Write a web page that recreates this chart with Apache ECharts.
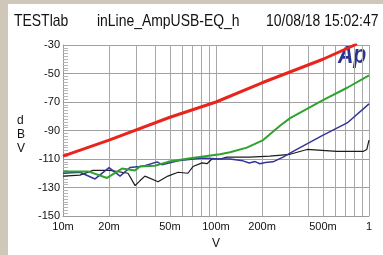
<!DOCTYPE html>
<html>
<head>
<meta charset="utf-8">
<script src="https://cdn.jsdelivr.net/npm/echarts@6/dist/echarts.min.js"></script>
<style>
html, body { margin: 0; padding: 0; background: #fff; }
#chart { width: 383px; height: 255px; }
</style>
</head>
<body>
<div id="chart"></div>
<script>
// 字体
var FONT = "'Liberation Sans', Arial, sans-serif";

// x 轴刻度 (V)
var xLabelValues = [0.01, 0.02, 0.05, 0.1, 0.2, 0.5, 1];
var xGridValues = [0.01, 0.02, 0.03, 0.04, 0.05, 0.06, 0.07, 0.08, 0.09,
                   0.1, 0.2, 0.3, 0.4, 0.5, 0.6, 0.7, 0.8, 0.9, 1];

// 红线
var redX = [0.01, 0.02, 0.05, 0.1, 0.2, 0.5, 0.835];
var redY = [-108, -96.7, -80.7, -70, -56.5, -40, -29.3];

// 绿线
var greenX = [0.01, 0.0146, 0.0194, 0.0243, 0.0296, 0.0318, 0.0399, 0.0485, 0.0697, 0.1062,
              0.1235, 0.159, 0.2033, 0.262, 0.305, 0.5, 0.72, 1];
var greenY = [-118.7, -118.7, -123.3, -116.7, -118, -115.3, -114.7, -112, -109.3, -106.7,
              -105.3, -102, -96.7, -86.7, -81.3, -68.7, -60, -51.3];

// 蓝线
var blueX = [0.01, 0.0129, 0.0162, 0.02, 0.0236, 0.0274, 0.0318, 0.0343, 0.0412, 0.0443,
             0.0565, 0.081, 0.1062, 0.1235, 0.15, 0.165, 0.18, 0.1937, 0.21, 0.2358,
             0.2745, 0.3191, 0.5013, 0.72, 1];
var blueY = [-120, -119.3, -124, -116, -122, -116, -115.3, -114.7, -112, -114,
             -111.3, -109.3, -110, -110, -111.3, -112.8, -111.8, -113.3, -112.5, -112,
             -108.7, -104.7, -93.3, -84.7, -71.3];

// 黑线
var blackX = [0.01, 0.0129, 0.0157, 0.0203, 0.0266, 0.0296, 0.0318, 0.0343, 0.0418, 0.0485,
              0.0565, 0.0655, 0.0707, 0.081, 0.0873, 0.0941, 0.1062, 0.118, 0.1665, 0.2245,
              0.305, 0.3935, 0.6164, 0.9144, 0.9676, 1];
var blackY = [-122, -121.3, -118, -118, -120, -128.7, -125.3, -122, -126, -122,
              -119.3, -120, -115.3, -112.7, -113.3, -110, -110, -108.7, -108.7, -108,
              -106.7, -103.3, -104.7, -104.7, -103.3, -96.7];

function pairs(xs, ys) {
    return xs.map(function (x, i) { return [x, ys[i]]; });
}

// 窄字标题
function narrowText(x, y, text, font, color, sx) {
    return {
        type: 'text', x: x, y: y, scaleX: sx,
        style: { text: text, font: font, fill: color, verticalAlign: 'top' }
    };
}

var chart = echarts.init(document.getElementById('chart'));
var option = {
    animation: false,
    backgroundColor: '#fff',
    textStyle: { fontFamily: FONT },
    grid: { left: 63, top: 45, right: 14, bottom: 30 },
    graphic: [
        { type: 'rect', left: 0, top: 0, shape: { width: 383, height: 4 }, style: { fill: '#cfc7ba' } },
        { type: 'rect', left: 0, top: 0, shape: { width: 8, height: 255 }, style: { fill: '#cfc7ba' } },
        narrowText(14, 13, 'TESTlab', '17px ' + FONT, '#111', 0.82),
        narrowText(97, 13, 'inLine_AmpUSB-EQ_h', '17px ' + FONT, '#111', 0.82),
        narrowText(266, 13, '10/08/18 15:02:47', '17px ' + FONT, '#111', 0.82),
        narrowText(338, 44, 'Ap', 'italic bold 25px ' + FONT, '#2b3590', 0.85),
        { type: 'text', left: 17, top: 114, style: { text: 'd\nB\nV', font: '12px ' + FONT, fill: '#111', lineHeight: 14 } }
    ],
    xAxis: {
        type: 'log',
        logBase: 10,
        min: 0.01,
        max: 1,
        name: 'V',
        nameLocation: 'middle',
        nameGap: 22,
        nameTextStyle: { fontSize: 12, color: '#111', fontFamily: FONT },
        axisLine: { show: true, lineStyle: { color: '#9a9a9a', width: 1 } },
        axisTick: { show: false, customValues: xGridValues },
        axisLabel: {
            customValues: xLabelValues,
            fontSize: 11,
            color: '#111',
            margin: 5,
            formatter: function (v) {
                return v >= 1 ? '1' : Math.round(v * 1000) + 'm';
            }
        },
        splitLine: { show: true, lineStyle: { color: '#a8a8a8', width: 1 } }
    },
    yAxis: {
        type: 'value',
        min: -150,
        max: -30,
        interval: 20,
        axisLine: { show: true, lineStyle: { color: '#9a9a9a', width: 1 } },
        axisTick: { show: false, inside: true },
        minorTick: { show: true, splitNumber: 10, length: 5, lineStyle: { color: '#b5b5b5' } },
        axisLabel: { fontSize: 11, color: '#111', margin: 3 },
        splitLine: { show: true, lineStyle: { color: '#a0a0a0', width: 1 } }
    },
    series: [
        { type: 'line', data: pairs(blackX, blackY), showSymbol: false, lineStyle: { color: '#1c1c1c', width: 1.2 } },
        { type: 'line', data: pairs(blueX, blueY), showSymbol: false, lineStyle: { color: '#34349a', width: 1.5 } },
        { type: 'line', data: pairs(greenX, greenY), showSymbol: false, lineStyle: { color: '#2ea32e', width: 2 } },
        { type: 'line', data: pairs(redX, redY), showSymbol: false, lineStyle: { color: '#e8241c', width: 3 } }
    ]
};
chart.setOption(option);
</script>
</body>
</html>
